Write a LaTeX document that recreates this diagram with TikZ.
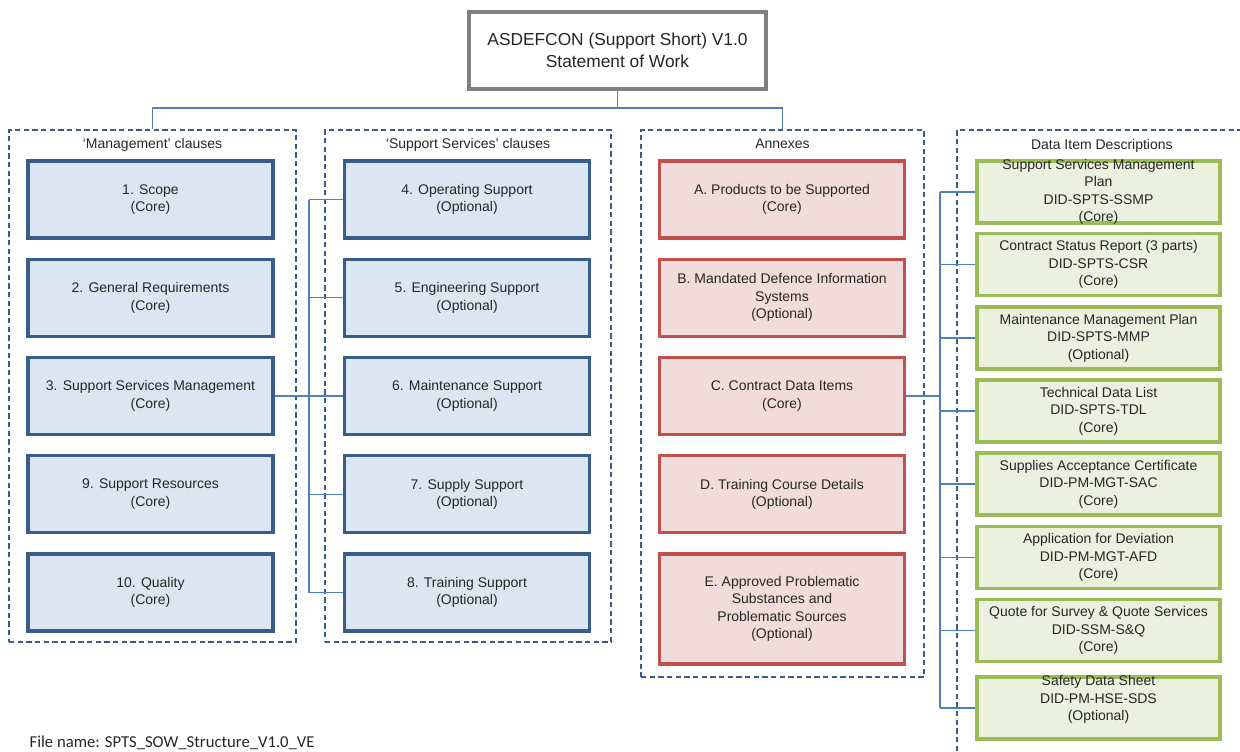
\documentclass[tikz,border=0pt]{standalone}
\usepackage{fontspec}
\setmainfont{Liberation Sans}
\newfontfamily\filefont{Carlito}
\usetikzlibrary{positioning}

\definecolor{clauseline}{HTML}{385D8A}
\definecolor{clausefill}{HTML}{DCE6F2}
\definecolor{annexline}{HTML}{C0504D}
\definecolor{annexfill}{HTML}{F2DCDB}
\definecolor{didline}{HTML}{9BBB59}
\definecolor{didfill}{HTML}{EBF1DE}
\definecolor{linkblue}{HTML}{4F81BD}
\definecolor{sowgray}{HTML}{7F7F7F}

\begin{document}
\begin{tikzpicture}[x=0.75pt,y=-0.75pt,
    every node/.style={font=\fontsize{10.5}{13.1}\selectfont,align=center,text=black!85},
    clause/.style={draw=clauseline,fill=clausefill,line width=2.3pt,minimum width=183.75pt,minimum height=57.75pt},
    annex/.style={clause,draw=annexline,fill=annexfill},
    didbox/.style={draw=didline,fill=didfill,line width=2.3pt,minimum width=182.25pt,minimum height=46.5pt,inner ysep=-4pt},
    group/.style={draw=clauseline,line width=0.8pt,dash pattern=on 4pt off 2.5pt},
    link/.style={draw=linkblue,line width=0.9pt}]
    		\useasboundingbox (0,0) rectangle (1240,751);

    		% top of the tree
    		\node[draw=sowgray,line width=3pt,fill=white,minimum width=222.75pt,minimum height=57.75pt,
    		      font=\fontsize{13}{16.5}\selectfont] (sow) at (617.5,50.5) {ASDEFCON (Support Short) V1.0\\Statement of Work};

    		% dashed groups
    		\node[group,minimum width=215.25pt,minimum height=384pt] (mgmt) at (152.5,386) {};
    		\node[group,minimum width=214.5pt,minimum height=384pt] (supp) at (468,386) {};
    		\node[group,minimum width=212.25pt,minimum height=410.25pt] (annx) at (782.5,403.5) {};
    		\coordinate (didc) at (957,130);
    		\draw[group] (didc |- 0,751) -- (didc) -- (1240,130);
    		\node[below=3.5pt of mgmt.north] {`Management' clauses};
    		\node[below=3.5pt of supp.north] {`Support Services' clauses};
    		\node[below=3.5pt of annx.north] {Annexes};
    		\node[below right=3.5pt and 52pt of didc] {Data Item Descriptions};

    		\draw[link] (sow.south) -- ++(0,17) -| (mgmt.north);
    		\draw[link] (sow.south) -- ++(0,17) -| (annx.north);

    		% clauses
    		\foreach \i/\t in {1/{1. Scope},2/{2. General Requirements},3/{3. Support Services Management},
    		                   4/{9. Support Resources},5/{10. Quality}}
    		{
    			\node[clause] (m\i) at (150.5,{199.5+98.25*(\i-1)}) {\t\\(Core)};
    		}
    		\foreach \i/\t in {1/{4. Operating Support},2/{5. Engineering Support},3/{6. Maintenance Support},
    		                   4/{7. Supply Support},5/{8. Training Support}}
    		{
    			\node[clause] (s\i) at (467,{199.5+98.25*(\i-1)}) {\t\\(Optional)};
    		}

    		% annexes
    		\node[annex] (a1) at (782,199.5) {A. Products to be Supported\\(Core)};
    		\node[annex] (a2) at (782,297.75) {B. Mandated Defence Information\\Systems\\(Optional)};
    		\node[annex] (a3) at (782,396) {C. Contract Data Items\\(Core)};
    		\node[annex] (a4) at (782,494.25) {D. Training Course Details\\(Optional)};
    		\node[annex,minimum height=82.5pt] (a5) at (782,609) {E. Approved Problematic\\Substances and\\Problematic Sources\\(Optional)};

    		% data items
    		\foreach \i/\y/\t in {1/192/{Support Services Management\\Plan\\DID-SPTS-SSMP\\(Core)},
    		                      2/264.5/{Contract Status Report (3 parts)\\DID-SPTS-CSR\\(Core)},
    		                      3/338/{Maintenance Management Plan\\DID-SPTS-MMP\\(Optional)},
    		                      4/411/{Technical Data List\\DID-SPTS-TDL\\(Core)},
    		                      5/484/{Supplies Acceptance Certificate\\DID-PM-MGT-SAC\\(Core)},
    		                      6/557.5/{Application for Deviation\\DID-PM-MGT-AFD\\(Core)},
    		                      7/630.5/{Quote for Survey \& Quote Services\\DID-SSM-S\&Q\\(Core)}}
    		{
    			\node[didbox] (d\i) at (1098.5,\y) {\t};
    		}
    		\node[didbox,text depth=14.5pt] (d8) at (1098.5,708) {Safety Data Sheet\\DID-PM-HSE-SDS\\(Optional)};

    		% connectors
    		\coordinate (strunk) at (309,0);
    		\coordinate (dtrunk) at (940,0);
    		\draw[link] (m3.east) -- (s3.west);
    		\draw[link] (s1.west -| strunk) -- (s5.west -| strunk);
    		\foreach \i in {1,...,5}
    			\draw[link] (s\i.west -| strunk) -- (s\i.west);
    		\draw[link] (a3.east) -- (a3.east -| dtrunk);
    		\draw[link] (d1.west -| dtrunk) -- (d8.west -| dtrunk);
    		\foreach \i in {1,...,8}
    			\draw[link] (d\i.west -| dtrunk) -- (d\i.west);

    		\node[anchor=base west,font=\filefont\fontsize{12.5}{15}\selectfont] (fname) at (25,747) {File name: SPTS\_SOW\_Structure\_V1.0\_VE};
\end{tikzpicture}
\end{document}
